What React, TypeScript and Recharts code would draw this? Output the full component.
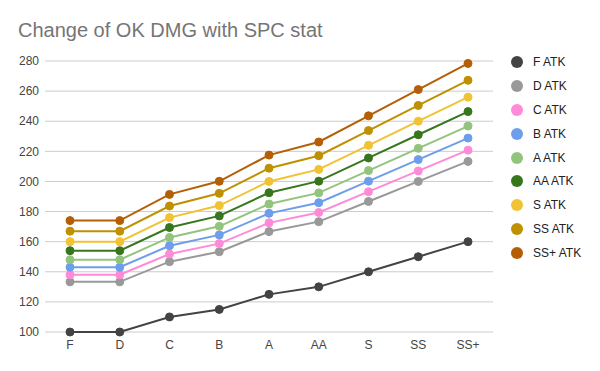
import { LineChart, Line, XAxis, YAxis, CartesianGrid } from 'recharts'

const grades = ['F', 'D', 'C', 'B', 'A', 'AA', 'S', 'SS', 'SS+']
const yTicks = [100, 120, 140, 160, 180, 200, 220, 240, 260, 280]

const fAtk = [100, 100, 110, 115, 125, 130, 140, 150, 160]
const dAtk = [133.3, 133.3, 146.7, 153.3, 166.7, 173.3, 186.7, 200, 213.3]
const cAtk = [138, 138, 151.8, 158.7, 172.5, 179.4, 193.2, 207, 220.8]
const bAtk = [143, 143, 157.3, 164.5, 178.8, 185.9, 200.2, 214.5, 228.8]
const aAtk = [148, 148, 162.8, 170.2, 185, 192.4, 207.2, 222, 236.8]
const aaAtk = [154, 154, 169.4, 177.1, 192.5, 200.2, 215.6, 231, 246.4]
const sAtk = [160, 160, 176, 184, 200, 208, 224, 240, 256]
const ssAtk = [167, 167, 183.7, 192.1, 208.8, 217.1, 233.8, 250.5, 267.2]
const sspAtk = [174, 174, 191.4, 200.1, 217.5, 226.2, 243.6, 261, 278.4]

const series = [
  { key: 'F ATK', values: fAtk, color: '#434343' },
  { key: 'D ATK', values: dAtk, color: '#999999' },
  { key: 'C ATK', values: cAtk, color: '#ff8ad8' },
  { key: 'B ATK', values: bAtk, color: '#6d9eeb' },
  { key: 'A ATK', values: aAtk, color: '#93c47d' },
  { key: 'AA ATK', values: aaAtk, color: '#38761d' },
  { key: 'S ATK', values: sAtk, color: '#f1c232' },
  { key: 'SS ATK', values: ssAtk, color: '#bf9000' },
  { key: 'SS+ ATK', values: sspAtk, color: '#b45f06' },
]

const rows = grades.map((g, i) => {
  const row: Record<string, string | number> = { grade: g }
  series.forEach((s) => {
    row[s.key] = s.values[i]
  })
  return row
})

const font = '"Liberation Sans", Arial, sans-serif'

export default function App() {
  return (
    <div style={{ position: 'absolute', left: 0, top: 0, width: 600, height: 371, background: '#fff', fontFamily: font }}>
      <div style={{ position: 'absolute', left: 18, top: 19, fontSize: 20, color: '#757575', whiteSpace: 'nowrap' }}>
        Change of OK DMG with SPC stat
      </div>
      <LineChart width={600} height={371} data={rows} margin={{ top: 61, right: 107, left: 0, bottom: 9 }}>
        <CartesianGrid vertical={false} stroke="#cccccc" />
        <XAxis
          dataKey="grade"
          height={30}
          padding={{ left: 25, right: 25 }}
          axisLine={false}
          tickLine={false}
          tickSize={0}
          tickMargin={8}
          interval={0}
          tick={{ fontSize: 12, fill: '#444444', fontFamily: font }}
        />
        <YAxis
          domain={[100, 280]}
          ticks={yTicks}
          width={45}
          axisLine={false}
          tickLine={false}
          tickSize={0}
          tickMargin={6}
          tick={{ fontSize: 12, fill: '#444444', fontFamily: font }}
        />
        {series.map((s) => (
          <Line
            key={s.key}
            dataKey={s.key}
            stroke={s.color}
            strokeWidth={2}
            dot={{ r: 4, fill: s.color, stroke: s.color, strokeWidth: 1 }}
            isAnimationActive={false}
          />
        ))}
      </LineChart>
      <div style={{ position: 'absolute', left: 511, top: 53 }}>
        {series.map((s) => (
          <div key={s.key} style={{ display: 'flex', alignItems: 'center', height: 18, marginBottom: 5.9 }}>
            <span style={{ width: 12, height: 12, borderRadius: 6, background: s.color, display: 'inline-block' }} />
            <span style={{ marginLeft: 10, fontSize: 12, color: '#222222' }}>{s.key}</span>
          </div>
        ))}
      </div>
    </div>
  )
}
